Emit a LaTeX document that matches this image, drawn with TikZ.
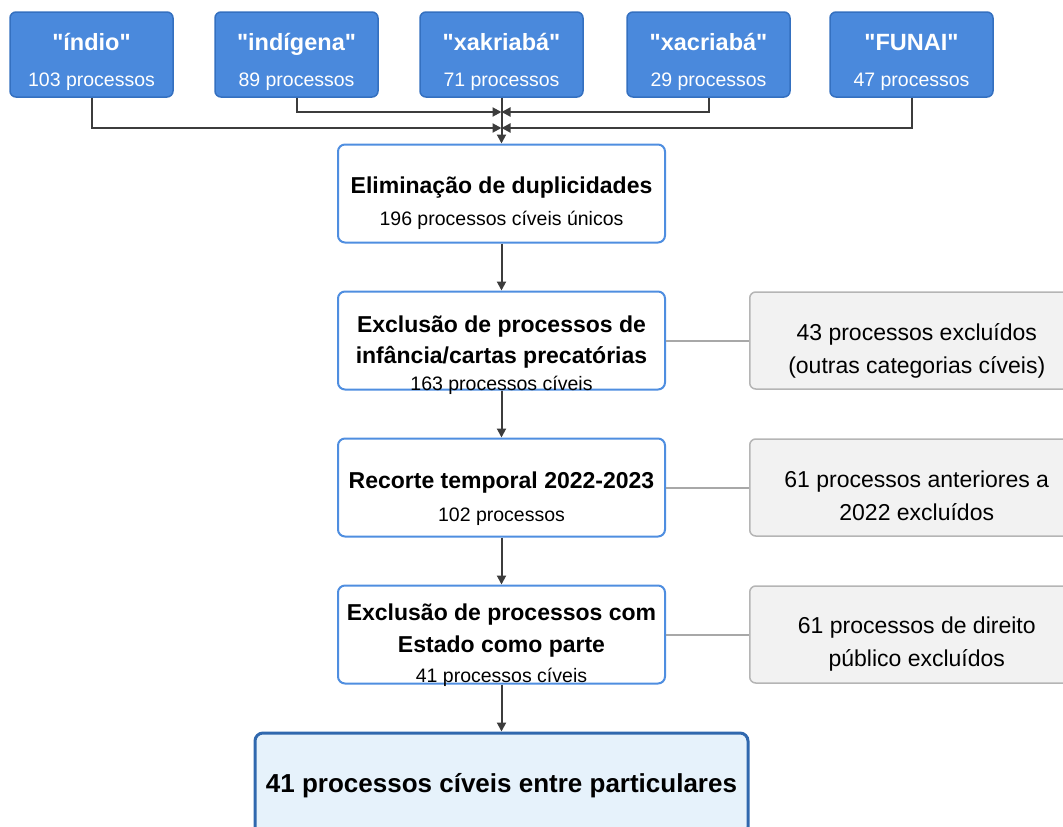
\documentclass[tikz,border=0pt]{standalone}
\usepackage{fontspec}
\setmainfont{Liberation Sans}[Ligatures=TeXOff]
\usetikzlibrary{positioning,arrows.meta}

\definecolor{topblue}{HTML}{4A89DC}
\definecolor{topedge}{HTML}{3470C0}
\definecolor{stepedge}{HTML}{4F8EE0}
\definecolor{outgray}{HTML}{F2F2F2}
\definecolor{outedge}{HTML}{B5B5B5}
\definecolor{endfill}{HTML}{E6F2FB}
\definecolor{endedge}{HTML}{3068AE}
\definecolor{linkdark}{HTML}{3C3C3C}
\definecolor{linkgray}{HTML}{A8A8A8}

% text block whose first baseline sits #1 above the node centre
\newcommand{\rows}[2]{\raisebox{#1}[0pt][0pt]{\begin{tabular}[t]{@{}c@{}}#2\end{tabular}}}
\newcommand{\subline}[1]{{\normalfont\fontsize{19.5}{32}\selectfont #1}}

\begin{document}
\begin{tikzpicture}[x=1pt,y=-1pt,
    topbox/.style={draw=topedge, fill=topblue, line width=1.5pt, rounded corners=6pt,
      minimum width=163pt, minimum height=85pt, inner sep=0pt,
      text=white, font=\fontsize{23.5}{36}\selectfont\bfseries},
    stepbox/.style={draw=stepedge, fill=white, line width=2pt, rounded corners=7pt,
      minimum width=327pt, minimum height=98pt, inner sep=0pt,
      font=\fontsize{23}{32}\selectfont\bfseries},
    outbox/.style={draw=outedge, fill=outgray, line width=1.5pt, rounded corners=6pt,
      minimum width=334pt, minimum height=97pt, inner sep=0pt,
      font=\fontsize{23}{33}\selectfont},
    endbox/.style={draw=endedge, fill=endfill, line width=3pt, rounded corners=8pt,
      minimum width=493pt, minimum height=102pt, inner sep=0pt,
      font=\fontsize{26}{30}\selectfont\bfseries},
    arr/.style={draw=linkdark, line width=2pt, -{Triangle[length=9pt,width=9pt]}},
    link/.style={draw=linkgray, line width=2pt},
    node distance=47pt]

  \path[use as bounding box, clip] (0,0) rectangle (1063,827);

  % search terms
  \foreach \nm/\lab/\cnt/\px in {ind/índio/103/91.5, indg/indígena/89/296.5,
      xak/xakriabá/71/501.5, xac/xacriabá/29/708.5, fun/FUNAI/47/911.5}
    \node[topbox] (\nm) at (\px,54.5) {\rows{4pt}{"\lab"\\\subline{\cnt\ processos}}};

  % filtering steps
  \node[stepbox] (elim) at (501.5,193.5)
    {\rows{0pt}{Eliminação de duplicidades\\\subline{196 processos cíveis únicos}}};
  \node[stepbox, below=of elim] (excl1)
    {\rows{8pt}{Exclusão de processos de\\[-1pt]infância/cartas precatórias\\[-5pt]\subline{163 processos cíveis}}};
  \node[stepbox, below=of excl1] (recorte)
    {\rows{-1pt}{Recorte temporal 2022-2023\\[1pt]\subline{102 processos}}};
  \node[stepbox, below=of recorte] (excl2)
    {\rows{14.5pt}{Exclusão de processos com\\Estado como parte\\[-2pt]\subline{41 processos cíveis}}};
  \node[endbox, below=of excl2] (fim) {\rows{-8pt}{41 processos cíveis entre particulares}};

  % excluded
  \node[outbox, right=83pt of excl1] (out1) {\rows{0pt}{43 processos excluídos\\(outras categorias cíveis)}};
  \node[outbox, right=83pt of recorte] (out2) {\rows{0pt}{61 processos anteriores a\\2022 excluídos}};
  \node[outbox, right=83pt of excl2] (out3) {\rows{1pt}{61 processos de direito\\público excluídos}};

  \coordinate (j1) at (501.5,112);
  \coordinate (j2) at (501.5,128);
  \draw[arr] (ind.south) |- (j2);
  \draw[arr] (fun.south) |- (j2);
  \draw[arr] (indg.south) |- (j1);
  \draw[arr] (xac.south) |- (j1);
  \draw[arr] (xak) -- (elim);

  \draw[arr] (elim) -- (excl1);
  \draw[arr] (excl1) -- (recorte);
  \draw[arr] (recorte) -- (excl2);
  \draw[arr] (excl2) -- (fim);

  \draw[link] (excl1) -- (out1);
  \draw[link] (recorte) -- (out2);
  \draw[link] (excl2) -- (out3);
\end{tikzpicture}
\end{document}
